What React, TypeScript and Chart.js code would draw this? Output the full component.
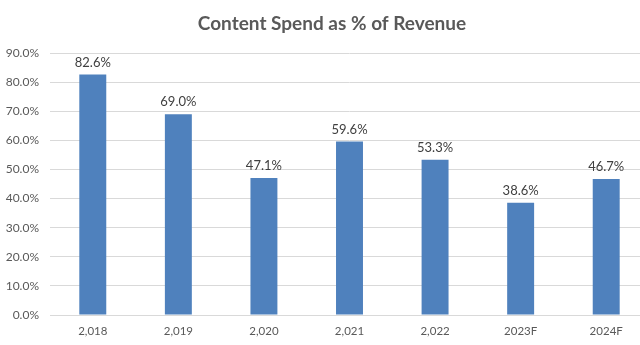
import React, { useEffect, useRef } from "react";
import { Chart, registerables } from "chart.js";

Chart.register(...registerables);

const categories = ["2,018", "2,019", "2,020", "2,021", "2,022", "2023F", "2024F"];
const contentSpendPct = [82.6, 69.0, 47.1, 59.6, 53.3, 38.6, 46.7];
const yTickMax = 90;
const yTickStep = 10;
const titleText = "Content Spend as % of Revenue";

const FONT = "Lato, 'Open Sans', sans-serif";

const titlePlugin = {
  id: "customTitle",
  afterDraw(chart: any) {
    const ctx = chart.ctx;
    ctx.save();
    ctx.font = `bold 19px ${FONT}`;
    ctx.fillStyle = "#595959";
    ctx.textAlign = "center";
    ctx.textBaseline = "middle";
    ctx.fillText(titleText, 332, 24);
    ctx.restore();
  },
};

const labelPlugin = {
  id: "barLabels",
  afterDatasetsDraw(chart: any) {
    const ctx = chart.ctx;
    const meta = chart.getDatasetMeta(0);
    ctx.save();
    ctx.font = `13px ${FONT}`;
    ctx.fillStyle = "#404040";
    ctx.textAlign = "center";
    ctx.textBaseline = "middle";
    meta.data.forEach((bar: any, i: number) => {
      const v = chart.data.datasets[0].data[i] as number;
      ctx.fillText(`${v.toFixed(1)}%`, bar.x, bar.y - 12);
    });
    ctx.restore();
  },
};

export default function App() {
  const ref = useRef<HTMLCanvasElement | null>(null);
  useEffect(() => {
    document.body.style.margin = "0";
    document.body.style.overflow = "hidden";
    if (!ref.current) return;
    const chart = new Chart(ref.current, {
      type: "bar",
      data: {
        labels: categories,
        datasets: [
          {
            data: contentSpendPct,
            backgroundColor: "#4F81BD",
            borderWidth: 0,
            barPercentage: 0.315,
            categoryPercentage: 1,
          },
        ],
      },
      options: {
        animation: false,
        responsive: false,
        devicePixelRatio: 1,
        layout: { padding: { top: 53, right: 15, bottom: 0, left: 0 } },
        plugins: {
          legend: { display: false },
          tooltip: { enabled: false },
          title: { display: false },
        },
        scales: {
          x: {
            afterFit(scale: any) {
              scale.height = 30;
            },
            grid: { display: false, drawTicks: false },
            border: { display: true, color: "#d9d9d9" },
            ticks: { color: "#595959", font: { family: FONT, size: 11.5 }, padding: 9, maxRotation: 0 },
          },
          y: {
            min: 0,
            max: yTickMax,
            afterFit(scale: any) {
              scale.width = 50;
            },
            grid: { color: "#d9d9d9", drawTicks: false },
            border: { display: false },
            ticks: {
              stepSize: yTickStep,
              color: "#595959",
              font: { family: FONT, size: 12 },
              padding: 11,
              callback: (v: any) => `${Number(v).toFixed(1)}%`,
            },
          },
        },
      },
      plugins: [titlePlugin, labelPlugin],
    });
    return () => chart.destroy();
  }, []);
  return (
    <div style={{ position: "absolute", left: 0, top: 0, width: 640, height: 345, overflow: "hidden", background: "#fff" }}>
      <canvas ref={ref} width={664} height={345} style={{ width: 664, height: 345, display: "block" }} />
    </div>
  );
}
